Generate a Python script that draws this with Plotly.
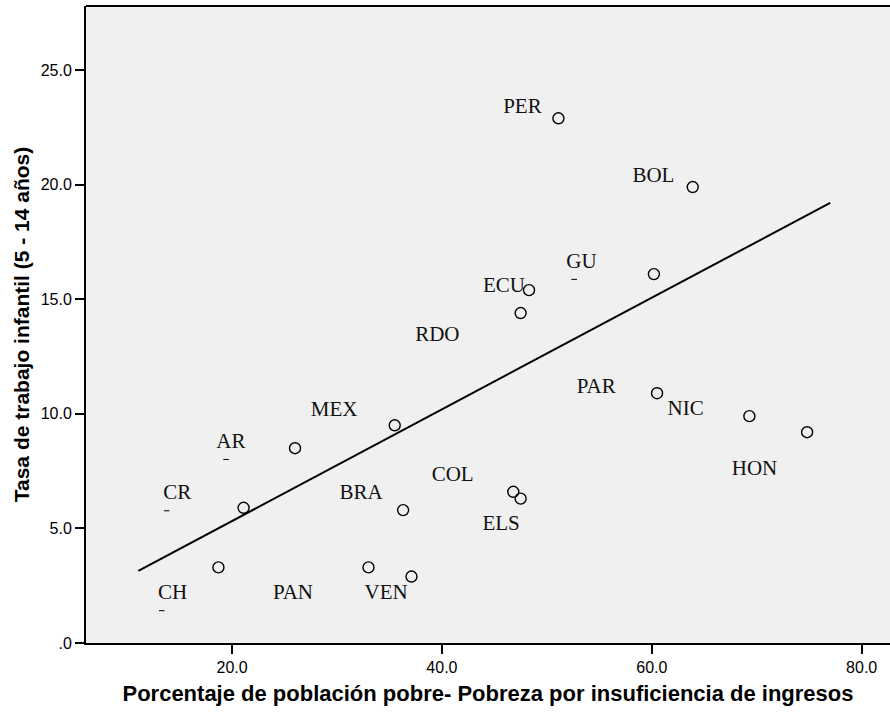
import plotly.graph_objects as go

# Data points (open circles)
point_x = [51.1, 63.9, 60.2, 48.3, 47.5, 26.0, 35.5, 36.3, 46.8, 47.5, 33.0, 37.1, 21.1, 18.7, 60.5, 69.3, 74.8]
point_y = [22.9, 19.9, 16.1, 15.4, 14.4, 8.5, 9.5, 5.8, 6.6, 6.3, 3.3, 2.9, 5.9, 3.3, 10.9, 9.9, 9.2]

# Country labels and where they are drawn
labels = ["PER", "BOL", "GU", "ECU", "RDO", "MEX", "COL", "BRA", "ELS", "PAN", "VEN",
          "CH", "CR", "AR", "PAR", "NIC", "HON"]
label_x = [47.67, 60.15, 53.3, 45.91, 39.56, 29.72, 41.02, 32.3, 45.64, 25.8, 34.68,
           14.33, 14.78, 19.89, 54.7, 63.23, 69.79]
label_y = [23.35, 20.37, 16.61, 15.56, 13.4, 10.15, 7.29, 6.51, 5.16, 2.14, 2.14,
           2.15, 6.52, 8.75, 11.14, 10.17, 7.58]

# Tiny label anchor marks
tick_mark_x = [13.77, 19.43, 13.3, 52.6]
tick_mark_y = [5.77, 8.01, 1.41, 15.87]

# Fit line end points
fit_x = [11.07, 77.0]
fit_y = [3.15, 19.21]

x_ticks = [20, 40, 60, 80]
y_ticks = [0, 5, 10, 15, 20, 25]
y_tick_text = [".0", "5.0", "10.0", "15.0", "20.0", "25.0"]
x_tick_text = ["20.0", "40.0", "60.0", "80.0"]

fig = go.Figure()

fig.add_trace(go.Scatter(x=fit_x, y=fit_y, mode="lines",
                         line=dict(color="black", width=2), showlegend=False))

fig.add_trace(go.Scatter(x=point_x, y=point_y, mode="markers",
                         marker=dict(symbol="circle-open", size=11, color="black",
                                     line=dict(width=1.4, color="black")),
                         showlegend=False))

fig.add_trace(go.Scatter(x=tick_mark_x, y=tick_mark_y, mode="markers",
                         marker=dict(symbol="line-ew-open", size=4, color="black",
                                     line=dict(width=1, color="black")),
                         showlegend=False))

fig.add_trace(go.Scatter(x=label_x, y=label_y, mode="text", text=labels,
                         textposition="middle center",
                         textfont=dict(family="Liberation Serif", size=21, color="#111111"),
                         showlegend=False))

fig.add_shape(type="line", xref="paper", yref="paper", x0=0, x1=1, y0=1, y1=1,
              line=dict(color="black", width=2))

fig.update_layout(
    width=890, height=712,
    margin=dict(l=86, r=0, t=6, b=69),
    paper_bgcolor="white",
    plot_bgcolor="#F0F0F0",
    font=dict(family="Liberation Sans", color="black"),
    xaxis=dict(range=[6.08, 82.7], tickvals=x_ticks, ticktext=x_tick_text,
               showgrid=False, zeroline=False, showline=True, linecolor="black",
               linewidth=2, ticks="outside", ticklen=9, tickwidth=1.5, tickcolor="black",
               tickfont=dict(size=16, family="Liberation Sans"),
               title=dict(text="<b>Porcentaje de población pobre- Pobreza por insuficiencia de ingresos</b>",
                          font=dict(size=22, family="Liberation Sans"), standoff=10)),
    yaxis=dict(range=[0, 27.8], tickvals=y_ticks, ticktext=y_tick_text,
               showgrid=False, zeroline=False, showline=True, linecolor="black",
               linewidth=2, ticks="outside", ticklen=9, tickwidth=1.5, tickcolor="black",
               tickfont=dict(size=16, family="Liberation Sans"),
               title=dict(text="<b>Tasa de trabajo infantil (5 - 14 años)</b>",
                          font=dict(size=21, family="Liberation Sans"), standoff=5)),
)

fig.write_html("out.html")
